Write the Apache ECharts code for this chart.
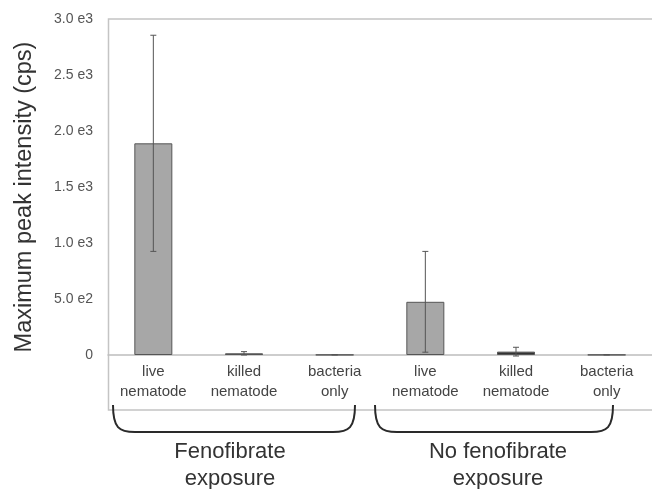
<!DOCTYPE html>
<html>
<head>
<meta charset="utf-8">
<script src="https://cdn.jsdelivr.net/npm/echarts@6/dist/echarts.min.js"></script>
<style>html,body{margin:0;padding:0;background:#fff}#c{width:652px;height:489px}</style>
</head>
<body>
<div id="c"></div>
<script>
const categories = ['live\nnematode', 'killed\nnematode', 'bacteria\nonly', 'live\nnematode', 'killed\nnematode', 'bacteria\nonly'];
const means = [1890, 15, 2, 475, 30, 2];
const errors = [965, 15, 1, 450, 39, 1];
const yTickLabels = { '0': '0', '500': '5.0 e2', '1000': '1.0 e3', '1500': '1.5 e3', '2000': '2.0 e3', '2500': '2.5 e3', '3000': '3.0 e3' };
const groupLabels = ['Fenofibrate\nexposure', 'No fenofibrate\nexposure'];
const barColors = ['#a7a7a7', '#333333', '#a7a7a7', '#a7a7a7', '#333333', '#a7a7a7'];

const FONT = '"Liberation Sans", Arial, sans-serif';
const chart = echarts.init(document.getElementById('c'), null, { renderer: 'canvas' });

function brace(x1, x2, yTop, yBot) {
  const r = 22;
  const st = { stroke: '#2a2a2a', lineWidth: 2, fill: null };
  return [
    { type: 'bezierCurve', shape: { x1: x1, y1: yTop, cpx1: x1, cpy1: yBot - 4, cpx2: x1 + 6, cpy2: yBot, x2: x1 + r, y2: yBot }, style: st },
    { type: 'line', shape: { x1: x1 + r, y1: yBot, x2: x2 - r, y2: yBot }, style: st },
    { type: 'bezierCurve', shape: { x1: x2 - r, y1: yBot, cpx1: x2 - 6, cpy1: yBot, cpx2: x2, cpy2: yBot - 4, x2: x2, y2: yTop }, style: st }
  ];
}

const option = {
  animation: false,
  backgroundColor: '#fff',
  grid: { left: 108, top: 19, width: 546, height: 336, show: false },
  xAxis: {
    type: 'category',
    data: categories,
    axisTick: { show: false },
    axisLine: { lineStyle: { color: '#bdbdbd', width: 1.5 } },
    axisLabel: { fontFamily: FONT, fontSize: 15, color: '#444', lineHeight: 20, margin: 7, interval: 0 }
  },
  yAxis: {
    type: 'value',
    min: 0, max: 3000, interval: 500,
    axisLine: { show: false },
    axisTick: { show: false },
    splitLine: { show: false },
    axisLabel: { fontFamily: FONT, fontSize: 14, color: '#555', margin: 15, formatter: function (v) { return yTickLabels[String(v)]; } },
    name: 'Maximum peak intensity (cps)',
    nameLocation: 'middle',
    nameGap: 71,
    nameTextStyle: { fontFamily: FONT, fontSize: 23.5, color: '#333', padding: [0, 20, 0, 0] }
  },
  series: [
    {
      type: 'bar',
      barWidth: 38,
      data: means.map(function (v, i) { return { value: v, itemStyle: { color: barColors[i] } }; }),
      itemStyle: { borderColor: '#555', borderWidth: 1 }
    },
    {
      type: 'custom',
      z: 5,
      data: means.map(function (m, i) { return [i, m, errors[i]]; }),
      renderItem: function (params, api) {
        const i = api.value(0), m = api.value(1), e = api.value(2);
        const hi = api.coord([i, m + e]);
        const lo = api.coord([i, m - e]);
        const cw = 3;
        const st = { stroke: '#555', lineWidth: 1 };
        return {
          type: 'group',
          children: [
            { type: 'line', shape: { x1: hi[0], y1: hi[1], x2: lo[0], y2: lo[1] }, style: st },
            { type: 'line', shape: { x1: hi[0] - cw, y1: hi[1], x2: hi[0] + cw, y2: hi[1] }, style: st },
            { type: 'line', shape: { x1: lo[0] - cw, y1: lo[1], x2: lo[0] + cw, y2: lo[1] }, style: st }
          ]
        };
      }
    }
  ],
  graphic: [].concat(
    [{ type: 'rect', z: -1, shape: { x: 108.5, y: 19, width: 546, height: 391 }, style: { fill: null, stroke: '#c4c4c4', lineWidth: 1.5 } }],
    brace(113, 355, 405, 432),
    brace(375, 613, 405, 432),
    [
      { type: 'text', style: { text: groupLabels[0], x: 230, y: 438, align: 'center', fontFamily: FONT, fontSize: 22, lineHeight: 27, fill: '#333' } },
      { type: 'text', style: { text: groupLabels[1], x: 498, y: 438, align: 'center', fontFamily: FONT, fontSize: 22, lineHeight: 27, fill: '#333' } }
    ]
  )
};
chart.setOption(option);
</script>
</body>
</html>
